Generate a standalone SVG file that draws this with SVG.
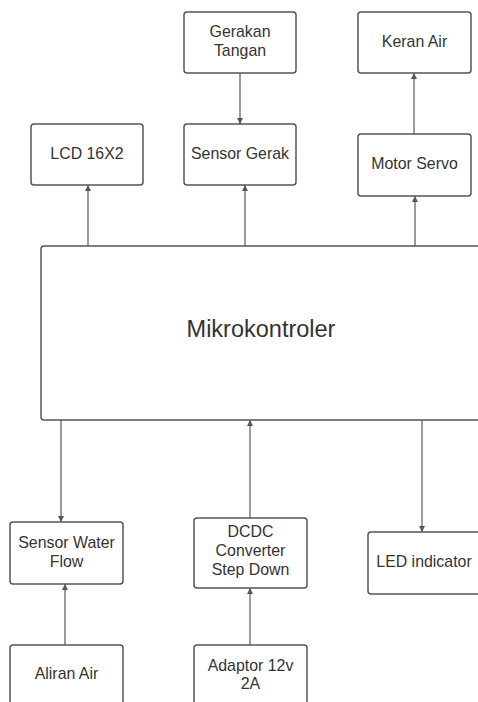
<svg xmlns="http://www.w3.org/2000/svg" width="478" height="702" viewBox="0 0 478 702">
<defs>
<style>
.box{fill:#fff;stroke:#555;stroke-width:1.5}
.t{font-family:"Liberation Sans",Arial,sans-serif;font-size:15.9px;fill:#333;text-anchor:middle}
.big{font-size:23.5px}
.c{stroke:#666;stroke-width:1.3;fill:none;marker-end:url(#ah)}
</style>
<marker id="ah" viewBox="0 0 10 10" refX="10" refY="5" markerWidth="6" markerHeight="6" markerUnits="userSpaceOnUse" orient="auto">
<path d="M0,0 L10,5 L0,10 z" fill="#555"/>
</marker>
</defs>
<rect width="478" height="702" fill="#fff"/>
<g id="connectors">
<line class="c" x1="240" y1="73" x2="240" y2="124"/>
<line class="c" x1="414" y1="134" x2="414" y2="73"/>
<line class="c" x1="88" y1="246" x2="88" y2="185"/>
<line class="c" x1="245" y1="246" x2="245" y2="185"/>
<line class="c" x1="415" y1="246" x2="415" y2="196"/>
<line class="c" x1="61" y1="420" x2="61" y2="522"/>
<line class="c" x1="250" y1="518" x2="250" y2="420"/>
<line class="c" x1="422" y1="420" x2="422" y2="532"/>
<line class="c" x1="65" y1="645" x2="65" y2="584"/>
<line class="c" x1="250" y1="645" x2="250" y2="588"/>
</g>
<g id="gerakan-tangan"><rect class="box" x="184" y="12" width="112" height="61" rx="3"/><text class="t" x="240" y="37">Gerakan</text><text class="t" x="240" y="56">Tangan</text></g>
<g id="keran-air"><rect class="box" x="358" y="12" width="113" height="61" rx="3"/><text class="t" x="414.5" y="47">Keran Air</text></g>
<g id="lcd"><rect class="box" x="31" y="124" width="112" height="61" rx="3"/><text class="t" x="87" y="159">LCD 16X2</text></g>
<g id="sensor-gerak"><rect class="box" x="184" y="124" width="112" height="61" rx="3"/><text class="t" x="240" y="159">Sensor Gerak</text></g>
<g id="motor-servo"><rect class="box" x="358" y="134" width="113" height="62" rx="3"/><text class="t" x="414.5" y="169">Motor Servo</text></g>
<g id="mikrokontroler"><rect class="box" x="41" y="246" width="450" height="174" rx="3"/><text class="t big" x="261" y="337">Mikrokontroler</text></g>
<g id="sensor-water-flow"><rect class="box" x="10" y="522" width="113" height="62" rx="3"/><text class="t" x="66.5" y="548">Sensor Water</text><text class="t" x="66.5" y="567">Flow</text></g>
<g id="dcdc"><rect class="box" x="194" y="518" width="113" height="70" rx="3"/><text class="t" x="250.5" y="537">DCDC</text><text class="t" x="250.5" y="556">Converter</text><text class="t" x="250.5" y="575">Step Down</text></g>
<g id="led"><rect class="box" x="368" y="532" width="120" height="62" rx="3"/><text class="t" x="424" y="567">LED indicator</text></g>
<g id="aliran-air"><rect class="box" x="10" y="645" width="113" height="70" rx="3"/><text class="t" x="66.5" y="679">Aliran Air</text></g>
<g id="adaptor"><rect class="box" x="194" y="645" width="113" height="70" rx="3"/><text class="t" x="250.5" y="671">Adaptor 12v</text><text class="t" x="250.5" y="689">2A</text></g>
</svg>
